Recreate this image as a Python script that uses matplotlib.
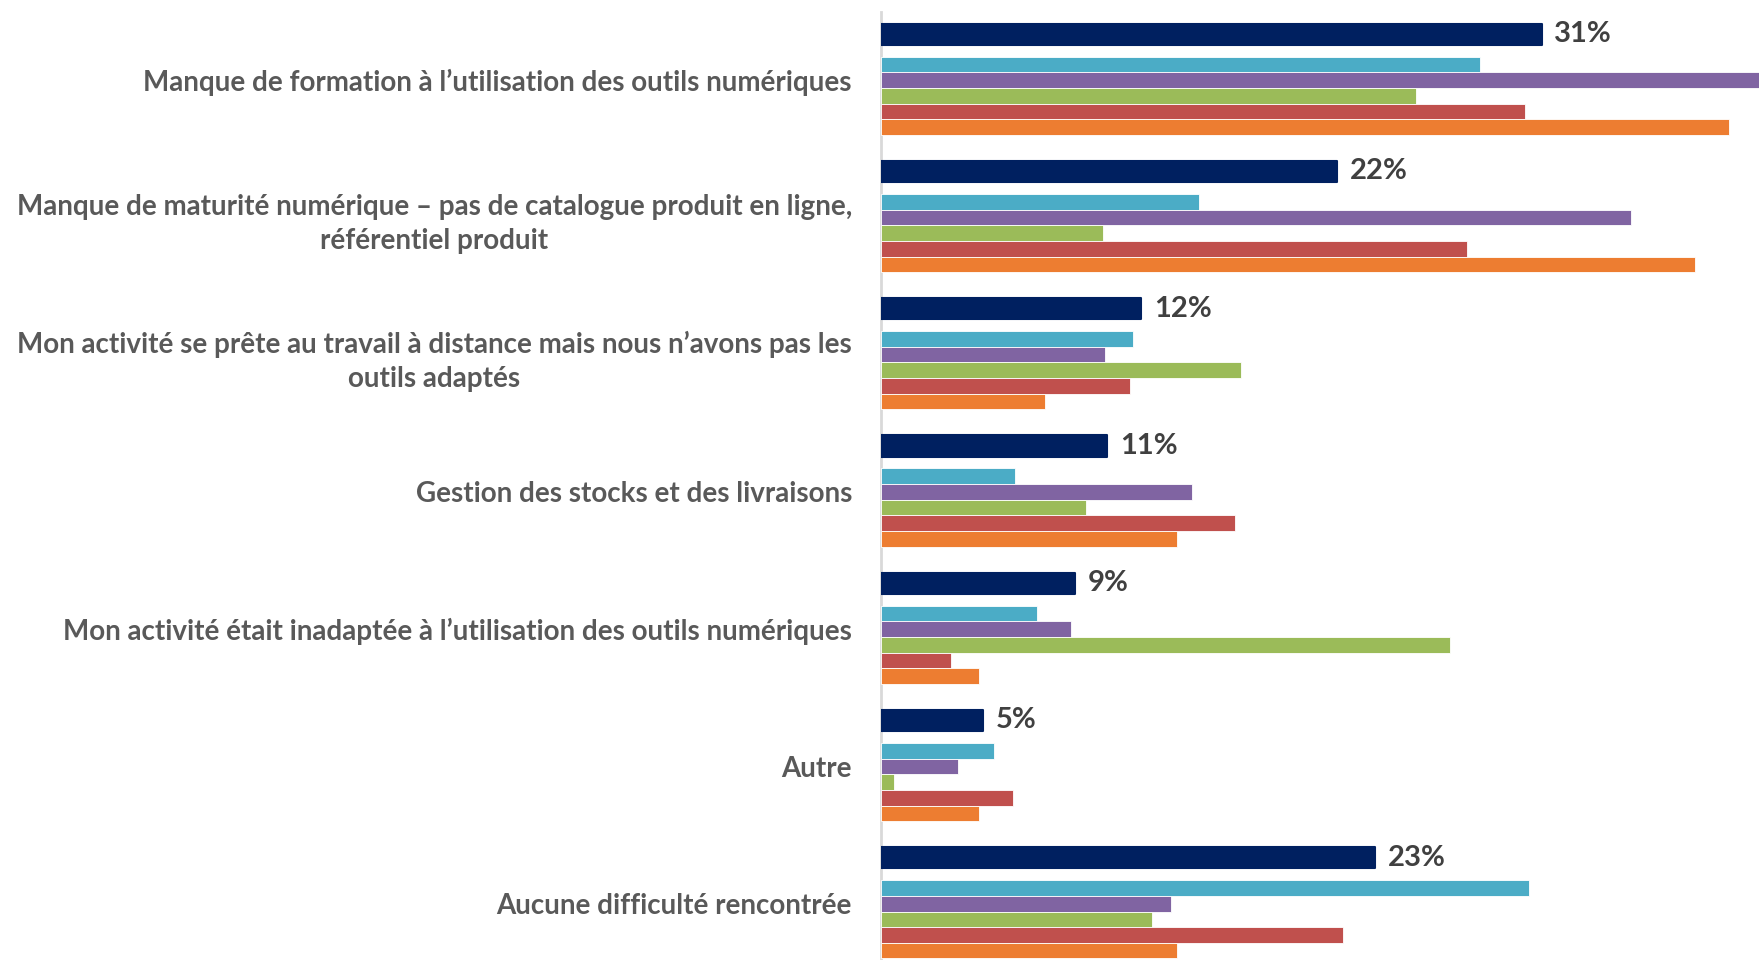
import matplotlib
matplotlib.use("Agg")
from matplotlib import pyplot as plt
import numpy as np

plt.rcParams["font.family"] = ["Lato", "DejaVu Sans"]

# Categories, top to bottom
categories = [
    "Manque de formation à l’utilisation des outils numériques",
    "Manque de maturité numérique – pas de catalogue produit en ligne,\nréférentiel produit",
    "Mon activité se prête au travail à distance mais nous n’avons pas les\noutils adaptés",
    "Gestion des stocks et des livraisons",
    "Mon activité était inadaptée à l’utilisation des outils numériques",
    "Autre",
    "Aucune difficulté rencontrée",
]

# Total: bar lengths as drawn, and the rounded values printed next to them (%)
total = [31.0, 21.4, 12.2, 10.6, 9.1, 4.8, 23.2]
total_labels = ["31%", "22%", "12%", "11%", "9%", "5%", "23%"]

# Five sub-series, values in %
series_cyan = [28.1, 14.9, 11.8, 6.3, 7.3, 5.3, 30.4]
series_purple = [44.0, 35.2, 10.5, 14.6, 8.9, 3.6, 13.6]
series_green = [25.1, 10.4, 16.9, 9.6, 26.7, 0.6, 12.7]
series_red = [30.2, 27.5, 11.7, 16.6, 3.3, 6.2, 21.7]
series_orange = [39.8, 38.2, 7.7, 13.9, 4.6, 4.6, 13.9]

sub_series = [series_cyan, series_purple, series_green, series_red, series_orange]
sub_colors = ["#4BACC6", "#8064A2", "#9BBB59", "#C0504D", "#ED7D31"]
navy = "#002060"

fig = plt.figure(figsize=(17.59, 9.6), dpi=100)
ax = fig.add_axes([0.5009, 0.0, 0.4991, 0.988])

y = np.arange(len(categories))

# total bar, sitting above the sub-series
ax.barh(y - 0.335, total, height=0.155, color=navy, edgecolor=navy,
        linewidth=1.5, joinstyle="round", zorder=3)
for yi, v, lab in zip(y, total, total_labels):
    ax.text(v + 0.6, yi - 0.335, lab, va="center", ha="left",
            fontsize=21, fontweight="bold", color="#404040")

# sub-series bars stacked tightly under it
h = 0.114
for k, (vals, c) in enumerate(zip(sub_series, sub_colors)):
    ax.barh(y + (k - 1) * h, vals, height=h, color=c,
            edgecolor="white", linewidth=0.6, zorder=3)

ax.set_xlim(0, 41.2)
ax.set_ylim(6.41, -0.5)

ax.set_yticks(y)
ax.set_yticklabels(categories, fontsize=20, fontweight="bold",
                   color="#595959", multialignment="center", linespacing=1.38)
ax.tick_params(axis="y", length=0, pad=21)
ax.set_xticks([])

for s in ["top", "right", "bottom"]:
    ax.spines[s].set_visible(False)
ax.spines["left"].set_color("#D9D9D9")
ax.spines["left"].set_linewidth(2)

fig.savefig("out.png", dpi=100)
